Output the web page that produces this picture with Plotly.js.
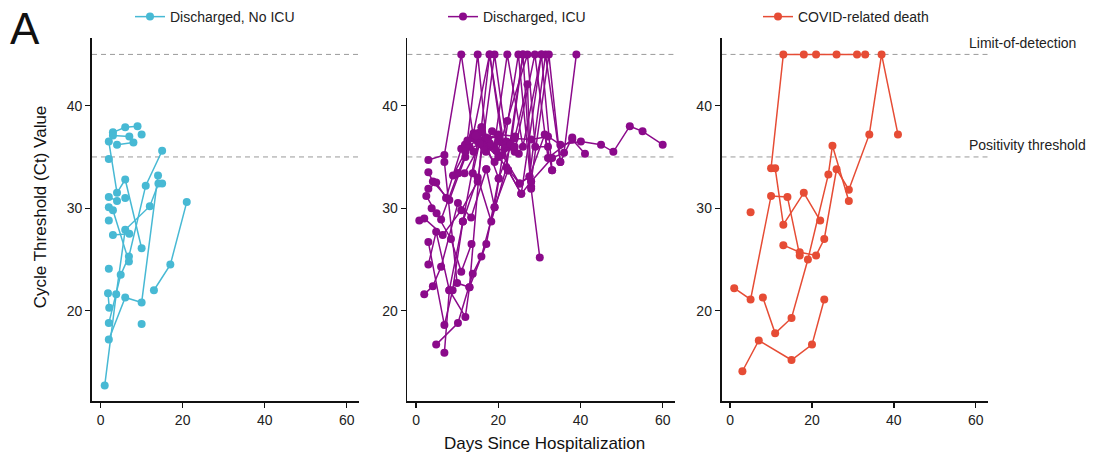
<!DOCTYPE html>
<html>
<head>
<meta charset="utf-8">
<script src="https://cdn.plot.ly/plotly-3.0.1.min.js"></script>
<style>
  html, body { margin: 0; padding: 0; background: #ffffff; }
  #chart { width: 1102px; height: 460px; }
</style>
</head>
<body>
<div id="chart"></div>
<script>
// Group labels and colours
const groupNames = ["Discharged, No ICU", "Discharged, ICU", "COVID-related death"];
const groupColors = ["#47b9d4", "#8b0a8b", "#e64c35"];

// Reference thresholds (Ct)
const limitOfDetection = 45;
const positivityThreshold = 35;

const xTickValues = [0, 20, 40, 60];
const yTickValues = [20, 30, 40];

// Discharged, No ICU: one list per patient (days since hospitalization / Ct)
const noIcuDays = [
  [1, 3.8, 6, 12, 14.1],
  [2, 6, 10, 14],
  [2, 4.9, 6.9, 11, 15],
  [1.8, 2.1],
  [2, 4, 6, 10],
  [3, 6, 9],
  [3, 7],
  [4, 8],
  [2, 3, 6.9],
  [3, 7],
  [13, 17, 21],
  [2, 4],
  [2], [2], [2], [10], [10], [15], [6]
];
const noIcuCt = [
  [12.7, 21.6, 27.9, 30.2, 32.4],
  [17.2, 21.3, 20.8, 33.2],
  [18.8, 23.5, 25.3, 32.2, 35.6],
  [21.7, 20.3],
  [36.5, 31.5, 32.8, 26.1],
  [37.4, 37.9, 38.0],
  [37.1, 37.0],
  [36.2, 36.4],
  [30.1, 29.8, 24.8],
  [27.4, 27.5],
  [22.0, 24.5, 30.6],
  [31.1, 30.7],
  [34.8], [28.8], [24.1], [18.7], [37.2], [32.4], [31.0]
];

// Discharged, ICU
const icuDays = [
  [0.8, 2, 6.5, 11, 15, 19.1, 22, 25],
  [2, 4.1, 6.1, 10.2, 13.4, 17.1],
  [3, 4.9, 8.1, 12, 13, 17.1, 20.1],
  [3, 6.9, 8.9, 11.4, 15, 18],
  [3.8, 6.1, 10.2, 13.8, 17.9, 22.4],
  [3, 4.9, 7.3, 11, 14, 16],
  [3, 4.1, 8.1, 12, 15, 17],
  [3, 6.9, 11, 14, 17],
  [4.9, 10.2, 13.8, 15.9, 19.1, 24.9, 28],
  [6.9, 8.1, 11.4, 15, 18.3, 22, 26],
  [6.9, 10, 13, 16, 20, 24.1, 27.1, 28, 30.1],
  [10.2, 11.8, 16, 19, 22.2, 26, 30.5],
  [11.9, 14, 18, 21, 25.2, 27.6, 31.5, 35.1, 38],
  [13.8, 16, 20.1, 23, 26, 28, 33.1, 36, 39],
  [15.9, 17.9, 21, 24, 28.9, 32.1, 38, 41.1],
  [14, 16, 19.1, 22.2, 27.1, 29, 32.1],
  [17.1, 19.1, 22.4, 25.6, 30.5, 33.1],
  [20, 24, 28, 32.1, 35.1, 40.1, 45, 48, 52, 55.1, 60],
  [22.4, 25.6, 28, 32.3, 35.1],
  [13, 15, 20, 25.2, 27.6, 31.3, 33.1],
  [12.5, 15, 17.5, 20, 23],
  [14.5, 16.5, 18.5, 21.5],
  [9, 12, 15.5, 19.5, 24],
  [2.5, 5, 8.5, 11, 13.5]
];
const icuCt = [
  [28.8, 29.0, 27.4, 29.8, 32.6, 45, 36.5, 35.3],
  [21.6, 22.4, 24.3, 30.5, 29.1, 33.8],
  [24.5, 27.7, 22.0, 19.4, 22.3, 26.5, 32.9],
  [26.7, 18.6, 22.0, 28.7, 36.5, 36.0],
  [30.0, 28.9, 33.4, 37.0, 45, 33.7],
  [31.9, 32.5, 31.0, 35.8, 37.3, 37.9],
  [33.5, 32.6, 30.8, 35.0, 45, 36.9],
  [34.7, 35.2, 45, 36.8, 35.5],
  [16.7, 18.8, 23.6, 25.3, 30.1, 45, 32.1],
  [15.9, 22.0, 28.7, 33.0, 28.7, 34.0, 45],
  [34.5, 22.7, 22.3, 36.6, 37.2, 37.0, 42.1, 31.9, 25.2],
  [33.4, 33.4, 36.5, 36.0, 45, 36.0, 45],
  [36.2, 36.9, 36.3, 35.2, 32.4, 33.1, 45, 34.5, 36.9],
  [33.4, 37.4, 32.9, 36.0, 45, 32.6, 34.9, 35.4, 45],
  [37.9, 45, 36.4, 35.5, 45, 34.9, 36.7, 35.3],
  [35.5, 36.2, 34.5, 38.5, 45, 36.0, 36.0],
  [33.8, 30.1, 33.7, 31.4, 45, 33.7],
  [36.5, 36.8, 36.7, 37.0, 36.2, 36.5, 36.2, 35.5, 38.0, 37.5, 36.2],
  [33.7, 31.4, 32.6, 45, 34.5],
  [36.0, 36.8, 35.0, 32.4, 33.1, 37.2, 33.7],
  [36.6, 37.3, 36.8, 37.0, 36.2],
  [37.1, 36.0, 37.5, 35.8],
  [33.2, 35.5, 36.3, 35.6, 36.0],
  [31.2, 29.5, 27.0, 23.8, 26.5]
];

// COVID-related death
const deathDays = [
  [1, 5, 10, 14, 17],
  [13, 17, 21, 23, 26, 29, 34, 37, 41],
  [10, 13, 18, 21, 26, 31, 33],
  [11, 13, 18, 22],
  [8, 11, 15, 19, 24, 25, 29],
  [3, 7, 15, 20, 23],
  [5]
];
const deathCt = [
  [22.2, 21.1, 31.2, 31.1, 25.4],
  [26.4, 25.7, 25.4, 27.0, 33.8, 31.8, 37.2, 45, 37.2],
  [33.9, 45, 45, 45, 45, 45, 45],
  [33.9, 28.4, 31.5, 28.8],
  [21.3, 17.8, 19.3, 25.0, 33.3, 36.1, 30.7],
  [14.1, 17.1, 15.2, 16.7, 21.1],
  [29.6]
];

const groups = [
  { days: noIcuDays, ct: noIcuCt },
  { days: icuDays, ct: icuCt },
  { days: deathDays, ct: deathCt }
];

const axisIds = [["x", "y"], ["x2", "y2"], ["x3", "y3"]];
const legendIds = ["legend", "legend2", "legend3"];

const traces = [];
groups.forEach((g, gi) => {
  g.days.forEach((d, pi) => {
    traces.push({
      x: d,
      y: g.ct[pi],
      xaxis: axisIds[gi][0],
      yaxis: axisIds[gi][1],
      type: "scatter",
      mode: "lines+markers",
      name: groupNames[gi],
      legendgroup: "g" + gi,
      legend: legendIds[gi],
      showlegend: pi === 0,
      line: { color: groupColors[gi], width: 1.5 },
      marker: { color: groupColors[gi], size: 8 },
      hoverinfo: "x+y"
    });
  });
});

const font = "Liberation Sans, Arial, sans-serif";
const domains = [[0, 0.298], [0.352, 0.6507], [0.7026, 1.0]];

function xAxis(i) {
  return {
    domain: domains[i],
    anchor: axisIds[i][1],
    range: [-2.1, 63],
    tickvals: xTickValues,
    ticks: "outside", ticklen: 5, tickwidth: 1.3, tickcolor: "#111",
    showline: true, linecolor: "#111", linewidth: 1.8,
    showgrid: false, zeroline: false,
    tickfont: { family: font, size: 14, color: "#222" }
  };
}
function yAxis(i) {
  return {
    anchor: axisIds[i][0],
    range: [11.2, 46.6],
    tickvals: yTickValues,
    ticks: "outside", ticklen: 5, tickwidth: 1.3, tickcolor: "#111",
    showline: true, linecolor: "#111", linewidth: 1.8,
    showgrid: false, zeroline: false,
    tickfont: { family: font, size: 14, color: "#222" }
  };
}

const shapes = [];
[0, 1, 2].forEach(i => {
  [limitOfDetection, positivityThreshold].forEach(v => {
    shapes.push({
      type: "line", layer: "below",
      xref: axisIds[i][0] + " domain", yref: axisIds[i][1],
      x0: 0, x1: 1, y0: v, y1: v,
      line: { color: "#9a9a9a", width: 1, dash: "5px,4px" }
    });
  });
});

// Legends sit in the top strip, one per panel, placed in container coordinates
function legendAt(xc) {
  return {
    orientation: "h",
    xref: "container", x: xc, xanchor: "left",
    yref: "container", y: 0.963, yanchor: "middle",
    itemwidth: 30, bgcolor: "rgba(0,0,0,0)",
    font: { family: font, size: 14, color: "#222" }
  };
}

const layout = {
  width: 1102, height: 460,
  margin: { l: 92, r: 114, t: 38, b: 59 },
  paper_bgcolor: "#ffffff", plot_bgcolor: "#ffffff",
  font: { family: font, color: "#222" },
  xaxis: xAxis(0), yaxis: yAxis(0),
  xaxis2: xAxis(1), yaxis2: yAxis(1),
  xaxis3: xAxis(2), yaxis3: yAxis(2),
  legend: legendAt(130 / 1102),
  legend2: legendAt(443 / 1102),
  legend3: legendAt(758 / 1102),
  shapes: shapes,
  annotations: [
    { text: "A", xref: "paper", yref: "paper", x: -0.094, y: 1.026,
      xanchor: "left", yanchor: "middle", showarrow: false,
      font: { family: font, size: 44, color: "#111" } },
    { text: "Cycle Threshold (Ct) Value", xref: "paper", yref: "paper",
      x: -0.058, y: 0.534, xanchor: "center", yanchor: "middle", textangle: -90,
      showarrow: false, font: { family: font, size: 17, color: "#111" } },
    { text: "Days Since Hospitalization", xref: "paper", yref: "paper",
      x: 0.5045, y: -0.118, xanchor: "center", yanchor: "middle",
      showarrow: false, font: { family: font, size: 17, color: "#111" } },
    { text: "Limit-of-detection", xref: "paper", yref: "y3",
      x: 0.9766, y: limitOfDetection, xanchor: "left", yanchor: "middle", yshift: 11,
      showarrow: false, font: { family: font, size: 14, color: "#222" } },
    { text: "Positivity threshold", xref: "paper", yref: "y3",
      x: 0.9766, y: positivityThreshold, xanchor: "left", yanchor: "middle", yshift: 12,
      showarrow: false, font: { family: font, size: 14, color: "#222" } }
  ]
};

Plotly.newPlot("chart", traces, layout, { displayModeBar: false, staticPlot: true });
</script>
</body>
</html>
